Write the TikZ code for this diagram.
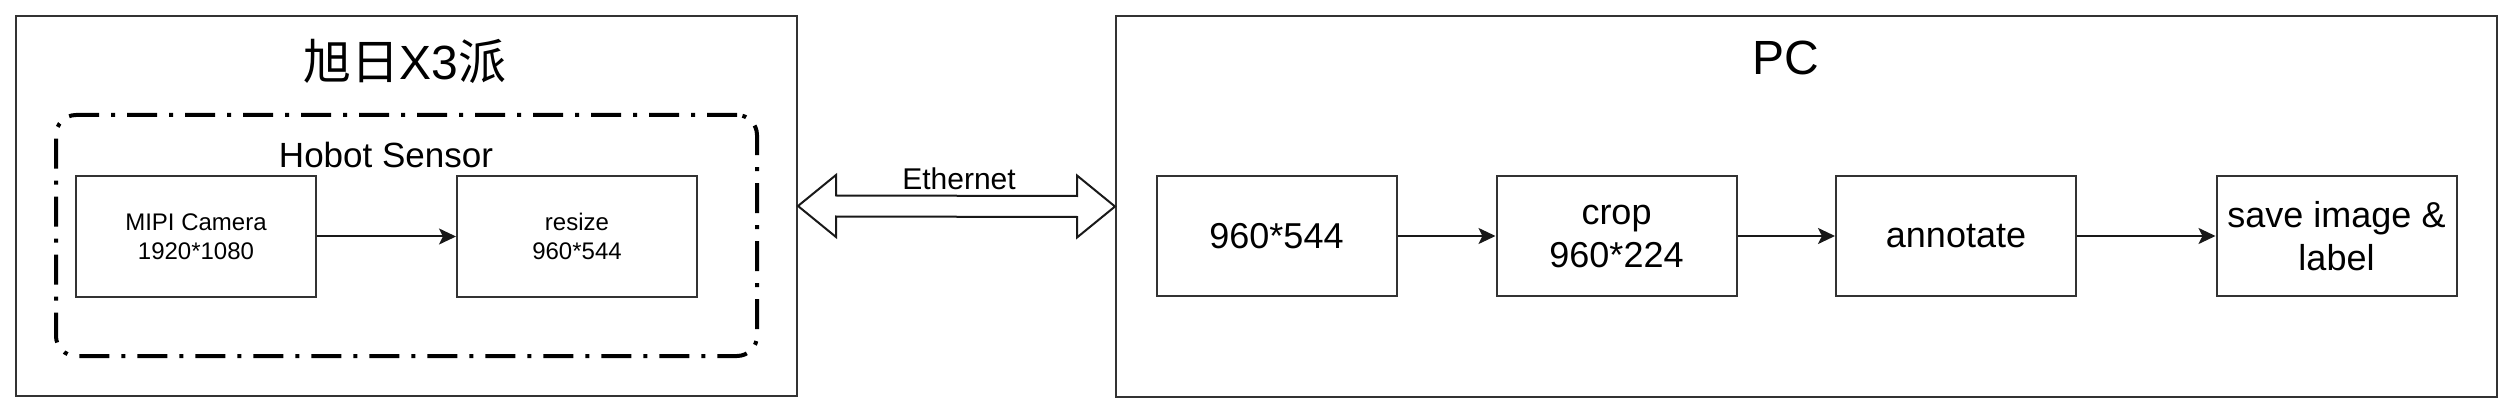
\documentclass[tikz,border=0pt]{standalone}
\usepackage{fontspec}
\setmainfont{Liberation Sans}
\newfontfamily\cjk{Noto Sans CJK SC}
\usetikzlibrary{arrows.meta,calc}
\begin{document}
\begin{tikzpicture}[x=1pt,y=-1pt,
  frame/.style={draw=black!80, line width=2pt, inner sep=0pt},
  stepbox/.style={draw=black!80, line width=2pt, minimum width=240pt, minimum height=120pt, inner sep=0pt, align=center},
  smalltext/.style={font=\fontsize{24}{29}\selectfont},
  bigtext/.style={font=\fontsize{36}{43}\selectfont},
  flow/.style={draw=black!90, line width=2pt, -{Stealth[length=17pt,width=16pt,inset=4pt]}},
  group/.style={draw=black, line width=4pt, rounded corners=20pt, dash pattern=on 30pt off 12pt on 4pt off 12pt, inner sep=0pt}
]
\useasboundingbox (0,0) rectangle (2514,414);
\fill[white] (0,0) rectangle (2514,414);

% outer frames
\node[frame, minimum width=781pt, minimum height=380pt] (x3) at (406.5,206) {};
\node[frame, minimum width=1381pt, minimum height=381pt] (pc) at (1806.5,206.5) {};

% titles
\node[anchor=base, inner sep=0pt, font=\fontsize{48}{56}\selectfont] (x3title) at (405,80) {{\cjk 旭日}X3{\cjk 派}};
\node[anchor=base, inner sep=0pt, font=\fontsize{48}{56}\selectfont] (pctitle) at (1786,75) {PC};

% Hobot sensor group
\node[group, minimum width=701pt, minimum height=241pt] (hobot) at (406.5,235.5) {};
\node[anchor=base, inner sep=0pt, font=\fontsize{35}{42}\selectfont] (hobotlabel) at (386,168) {Hobot Sensor};

\node[stepbox, smalltext] (cam) at (196,236.5) {MIPI Camera\\1920*1080};
\node[stepbox, smalltext] (rs) at (577,236.5) {resize\\960*544};
\draw[flow] (cam.east) -- (rs.west);

% Ethernet double arrow
\draw[draw=black!90, line width=2pt, line join=miter]
  (x3.east) -- ($(x3.east)+(38,-31)$) -- ($(x3.east)+(38,-10.5)$)
  -- ($(pc.west)+(-38,-10.5)$) -- ($(pc.west)+(-38,-31)$) -- (pc.west)
  -- ($(pc.west)+(-38,31)$) -- ($(pc.west)+(-38,10.5)$)
  -- ($(x3.east)+(38,10.5)$) -- ($(x3.east)+(38,31)$) -- cycle;
\node[anchor=base, inner sep=0pt, font=\fontsize{30}{36}\selectfont] (eth) at (959,190) {Ethernet};

% PC pipeline
\node[stepbox, bigtext] (p1) at (1276.5,236) {960*544};
\node[stepbox, bigtext] (p2) at (1616.5,236) {crop\\960*224};
\node[stepbox, bigtext] (p3) at (1956,236) {annotate};
\node[stepbox, bigtext] (p4) at (2336.5,236) {save image \&\\label};
\draw[flow] (p1.east) -- (p2.west);
\draw[flow] (p2.east) -- (p3.west);
\draw[flow] (p3.east) -- (p4.west);
\end{tikzpicture}
\end{document}
